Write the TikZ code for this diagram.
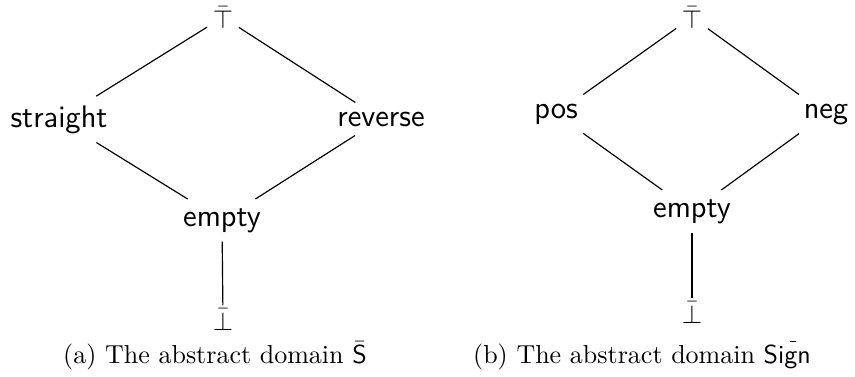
\documentclass[tikz,border=0pt]{standalone}
\usepackage{amsmath}
\begin{document}
\begin{tikzpicture}[x=0.3846pt,y=-0.3846pt,
  lat/.style={anchor=base,font=\sffamily\large},
  topsym/.style={anchor=base,inner sep=2pt},
  botsym/.style={anchor=base,inner sep=1pt},
  captext/.style={anchor=base,font=\rmfamily\normalsize,inner sep=0pt},
  hasse/.style={draw=black,line width=0.45pt}]
\useasboundingbox (0,0) rectangle (855,376);

% (a) lattice of the domain S-bar
\node[topsym] (at) at (223,28) {$\bar{\top}$};
\node[lat] (as) at (59,127) {straight};
\node[lat] (ar) at (381,126) {reverse};
\node[lat] (ae) at (222,226) {empty};
\node[botsym] (ab) at (223,330) {$\bar{\bot}$};
\draw[hasse] (at) -- (as);
\draw[hasse] (at) -- (ar);
\draw[hasse] (as) -- (ae);
\draw[hasse] (ar) -- (ae);
\draw[hasse] (ae) -- (ab);
\node[captext] (acap) at (215,363) {(a) The abstract domain $\bar{\mathsf{S}}$};

% (b) lattice of the sign domain
\node[topsym] (bt) at (692,28) {$\bar{\top}$};
\node[lat] (bp) at (556,118) {pos};
\node[lat] (bn) at (826,118) {neg};
\node[lat] (be) at (692,217) {empty};
\node[botsym] (bb) at (692,323) {$\bar{\bot}$};
\draw[hasse] (bt) -- (bp);
\draw[hasse] (bt) -- (bn);
\draw[hasse] (bp) -- (be);
\draw[hasse] (bn) -- (be);
\draw[hasse] (be) -- (bb);
\node[captext] (bcap) at (642,363) {(b) The abstract domain \textsf{Sig\llap{\raisebox{8pt}{\rule{2.2pt}{0.4pt}}\kern0.6pt}n}};
\end{tikzpicture}
\end{document}
